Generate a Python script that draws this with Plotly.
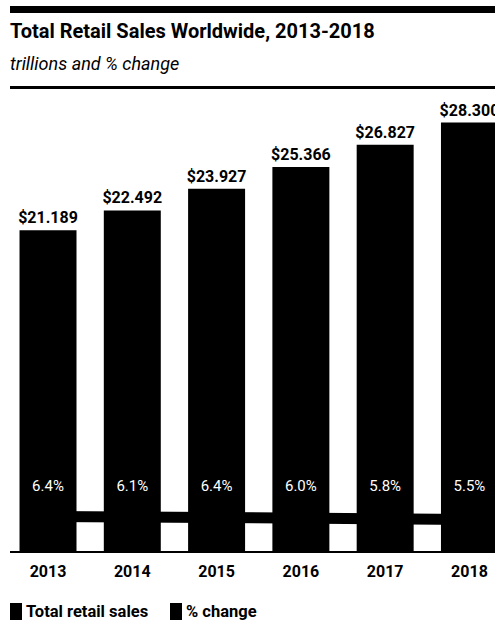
import plotly.graph_objects as go

# Worldwide retail sales (trillions of US$) and year-over-year % change
years = ["2013", "2014", "2015", "2016", "2017", "2018"]
sales = [21.189, 22.492, 23.927, 25.366, 26.827, 28.300]
pct_change = [6.4, 6.1, 6.4, 6.0, 5.8, 5.5]

FONT = "Roboto, Lato, 'Noto Sans', sans-serif"

W, H = 495, 625
ML, MR, MT, MB = 10, 0, 95, 74
plot_w = W - ML - MR
plot_h = H - MT - MB

# height (in sales units) at which the white % labels sit inside the bars
PCT_LABEL_LEVEL = 4.2


def px_x(p):
    return (p - ML) / plot_w


def px_y(p):
    return (H - MB - p) / plot_h


fig = go.Figure()

fig.add_trace(go.Bar(
    x=years, y=sales, name="Total retail sales",
    marker=dict(color="#000000", line=dict(width=0)),
    texttemplate="$%{y:.3f}", textposition="outside", cliponaxis=False,
    constraintext="none",
    textfont=dict(family=FONT, size=16, color="#000000", weight="bold"),
    showlegend=False,
))

fig.add_trace(go.Scatter(
    x=years, y=pct_change, name="% change", yaxis="y2", mode="lines",
    line=dict(color="#000000", width=11), showlegend=False,
))

# % change values printed in white inside each bar
fig.add_trace(go.Scatter(
    x=years, y=[PCT_LABEL_LEVEL] * len(years), mode="text",
    text=[f"{v:.1f}%" for v in pct_change], textposition="middle center",
    textfont=dict(family=FONT, size=15, color="#ffffff"),
    showlegend=False, hoverinfo="skip", cliponaxis=False,
))

# Title block
fig.add_annotation(
    x=px_x(8), y=px_y(31), xref="paper", yref="paper", xanchor="left", yanchor="middle",
    text="Total Retail Sales Worldwide, 2013-2018", showarrow=False,
    font=dict(family=FONT, size=20, color="#000000", weight="bold"),
)
fig.add_annotation(
    x=px_x(8), y=px_y(63), xref="paper", yref="paper", xanchor="left", yanchor="middle",
    text="trillions and % change", showarrow=False,
    font=dict(family=FONT, size=18, color="#000000", style="italic"),
)

# Rules above and below the title block
fig.add_shape(type="rect", xref="paper", yref="paper", x0=px_x(10), x1=1.0,
              y0=px_y(13), y1=px_y(6), fillcolor="#000000", line=dict(width=0))
fig.add_shape(type="rect", xref="paper", yref="paper", x0=px_x(10), x1=1.0,
              y0=px_y(89), y1=px_y(86), fillcolor="#000000", line=dict(width=0))

# Legend swatches and labels
legend_items = [("Total retail sales", 10), ("% change", 170)]
for label, left in legend_items:
    fig.add_shape(type="rect", xref="paper", yref="paper",
                  x0=px_x(left), x1=px_x(left + 12), y0=px_y(620), y1=px_y(603),
                  fillcolor="#000000", line=dict(width=0))
    fig.add_annotation(
        x=px_x(left + 14), y=px_y(611.5), xref="paper", yref="paper",
        xanchor="left", yanchor="middle", text=label, showarrow=False,
        font=dict(family=FONT, size=16.5, color="#000000", weight="bold"),
    )

fig.update_layout(
    width=W, height=H,
    margin=dict(l=ML, r=MR, t=MT, b=MB),
    paper_bgcolor="#ffffff", plot_bgcolor="#ffffff",
    bargap=0.324,
    xaxis=dict(
        type="category", range=[-0.451, 5.303],
        showline=True, linecolor="#000000", linewidth=2,
        showgrid=False, zeroline=False, ticks="", ticklabelstandoff=5,
        tickfont=dict(family=FONT, size=16, color="#000000", weight="bold"),
    ),
    yaxis=dict(range=[0, 30.12], visible=False, showgrid=False),
    yaxis2=dict(range=[-4, 133], overlaying="y", visible=False, showgrid=False),
    showlegend=False,
)

fig.write_html("out.html")
